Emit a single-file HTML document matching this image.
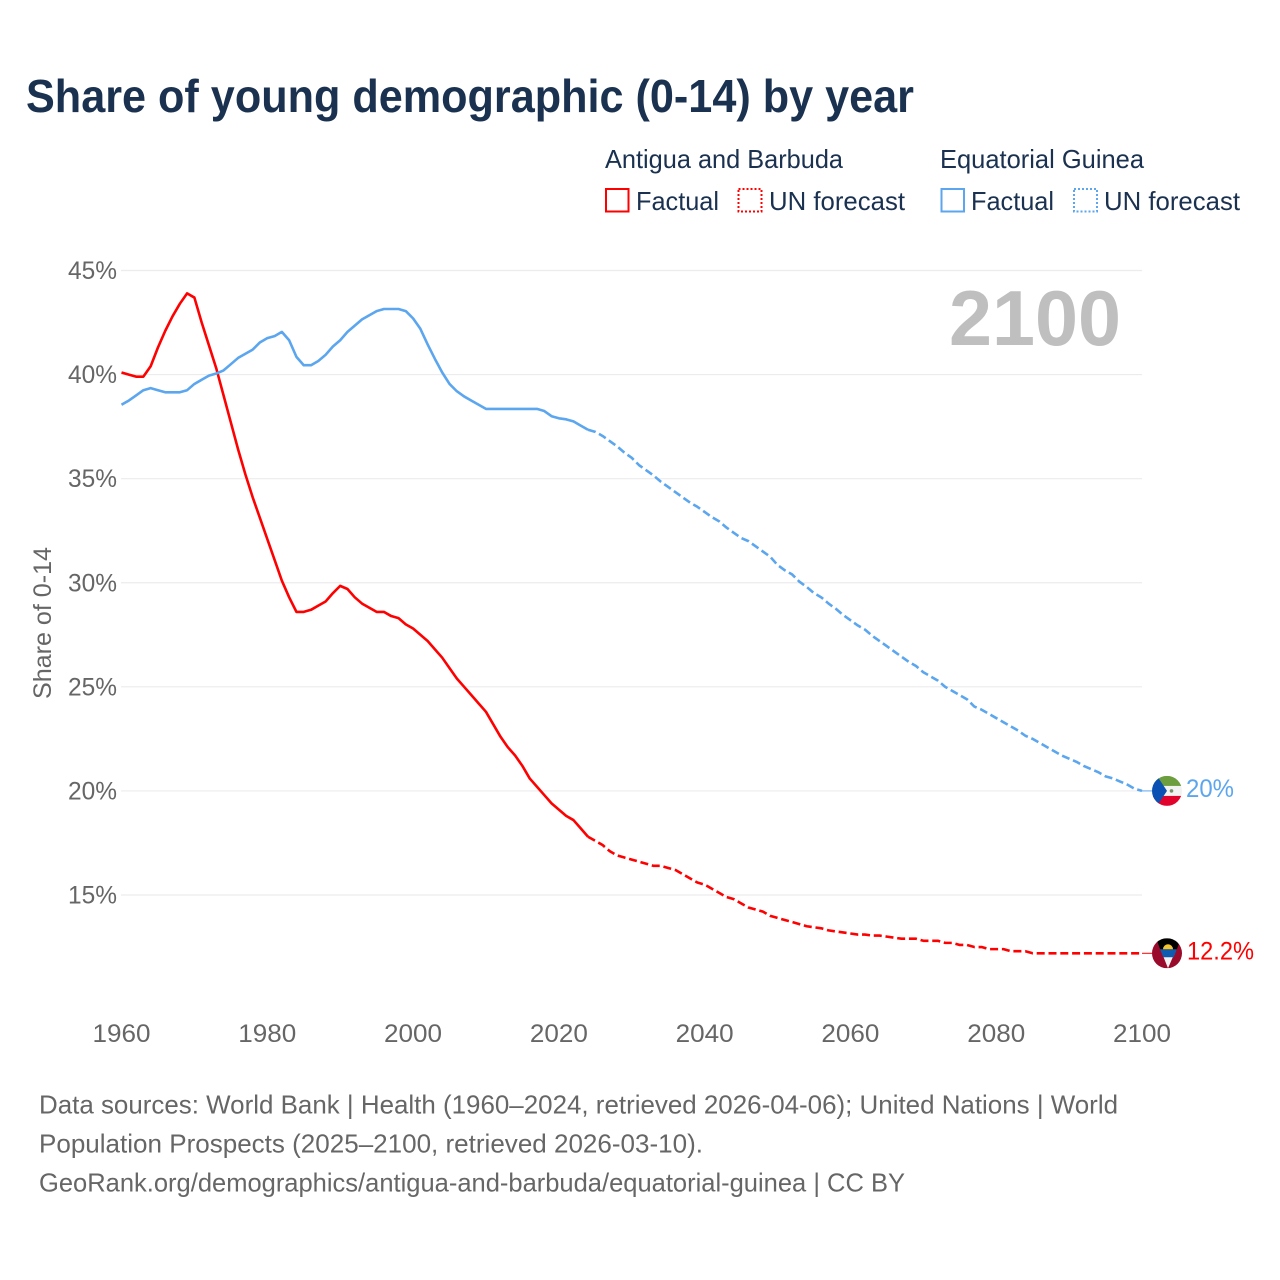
<!DOCTYPE html>
<html lang="en">
<head>
<meta charset="utf-8">
<title>Share of young demographic (0-14) by year</title>
<style>
html,body{margin:0;padding:0;background:#fff;width:1280px;height:1280px;overflow:hidden}
svg{display:block;font-family:"Liberation Sans",Arial,sans-serif}
</style>
</head>
<body>
<svg id="chart" xmlns="http://www.w3.org/2000/svg" width="1280" height="1280" viewBox="0 0 1280 1280">
  <defs>
    <clipPath id="flag-clip"><circle cx="0" cy="0" r="15"/></clipPath>
  </defs>
  <rect x="0" y="0" width="1280" height="1280" fill="#fff"/>
  <text x="26" y="112" font-size="46" font-weight="700" fill="#1a3150" textLength="888" lengthAdjust="spacingAndGlyphs">Share of young demographic (0-14) by year</text>

  <g font-size="26" fill="#1a3150">
    <text x="605" y="168" textLength="238" lengthAdjust="spacingAndGlyphs">Antigua and Barbuda</text>
    <rect x="606" y="189" width="22.5" height="22.5" fill="none" stroke="#ff0000" stroke-width="2"/>
    <text x="636" y="210" textLength="83" lengthAdjust="spacingAndGlyphs">Factual</text>
    <rect x="738.5" y="189" width="23" height="22.5" fill="none" stroke="#ff0000" stroke-width="2" stroke-dasharray="2 2"/>
    <text x="769" y="210" textLength="136" lengthAdjust="spacingAndGlyphs">UN forecast</text>
    <text x="940" y="168" textLength="204" lengthAdjust="spacingAndGlyphs">Equatorial Guinea</text>
    <rect x="941.5" y="189" width="22.5" height="22.5" fill="none" stroke="#5ba6ee" stroke-width="2"/>
    <text x="971" y="210" textLength="83" lengthAdjust="spacingAndGlyphs">Factual</text>
    <rect x="1074" y="189" width="23" height="22.5" fill="none" stroke="#5ba6ee" stroke-width="2" stroke-dasharray="2 2"/>
    <text x="1104" y="210" textLength="136" lengthAdjust="spacingAndGlyphs">UN forecast</text>
  </g>

  <g id="grid"></g>
  <g id="y-ticks"></g>
  <g id="x-ticks"></g>
  <text transform="translate(51,623) rotate(-90)" text-anchor="middle" font-size="25" fill="#666" textLength="152" lengthAdjust="spacingAndGlyphs">Share of 0-14</text>
  <text x="949" y="345" font-size="78" font-weight="700" fill="#bfbfbf" textLength="172" lengthAdjust="spacingAndGlyphs">2100</text>
  <g id="series"></g>

  <g id="flag-guinea" clip-path="url(#flag-clip)">
    <rect x="-15" y="-15" width="30" height="30" fill="#f2f2f2"/>
    <rect x="-15" y="-15" width="30" height="10" fill="#6c9e3f"/>
    <rect x="-15" y="5" width="30" height="10" fill="#e2032d"/>
    <polygon points="-15,-15 -10,-15 0,0 -10,15 -15,15" fill="#0a51b3"/>
    <circle cx="4.5" cy="0" r="1.8" fill="#77906a"/>
  </g>
  <g id="flag-antigua" clip-path="url(#flag-clip)">
    <rect x="-15" y="-15" width="30" height="30" fill="#9a0a2a"/>
    <polygon points="-11,-15 14,-15 1,15" fill="#f2f2f2"/>
    <polygon points="-11,-15 14,-15 9.5,-3 -6.5,-3" fill="#000"/>
    <polygon points="-7,-4 9.8,-4 6.8,4 -3.6,4" fill="#0f5bb0"/>
    <path d="M-4,-4 A5,5 0 0 1 6,-4 Z" fill="#f4c430"/>
  </g>
  <text id="label-guinea" x="1186" font-size="25" fill="#5ba6ee" textLength="48" lengthAdjust="spacingAndGlyphs"></text>
  <text id="label-antigua" x="1187" font-size="25" fill="#ff0000" textLength="67" lengthAdjust="spacingAndGlyphs"></text>

  <g font-size="26" fill="#666">
    <text x="39" y="1113.5" textLength="1079" lengthAdjust="spacingAndGlyphs">Data sources: World Bank | Health (1960–2024, retrieved 2026-04-06); United Nations | World</text>
    <text x="39" y="1152.5" textLength="664" lengthAdjust="spacingAndGlyphs">Population Prospects (2025–2100, retrieved 2026-03-10).</text>
    <text x="39" y="1191.5" textLength="866" lengthAdjust="spacingAndGlyphs">GeoRank.org/demographics/antigua-and-barbuda/equatorial-guinea | CC BY</text>
  </g>
</svg>

<script>
const xTickYears = [1960, 1980, 2000, 2020, 2040, 2060, 2080, 2100];
const yTickValues = [15, 20, 25, 30, 35, 40, 45];
const factualStartYear = 1960;
const forecastStartYear = 2024;

const antiguaFactual = [
  40.1,40.0,39.9,39.9,40.4,41.3,42.1,42.8,43.4,43.9,
  43.7,42.5,41.4,40.3,39.0,37.7,36.4,35.2,34.1,33.1,
  32.1,31.1,30.1,29.3,28.6,28.6,28.7,28.9,29.1,29.5,
  29.85,29.7,29.3,29.0,28.8,28.6,28.6,28.4,28.3,28.0,
  27.8,27.5,27.2,26.8,26.4,25.9,25.4,25.0,24.6,24.2,
  23.8,23.2,22.6,22.1,21.7,21.2,20.6,20.2,19.8,19.4,
  19.1,18.8,18.6,18.2,17.8
];
const antiguaForecast = [
  17.8,17.6,17.4,17.1,16.9,16.8,
  16.7,16.6,16.5,16.4,16.4,16.3,16.2,16.0,15.8,15.6,
  15.5,15.3,15.1,14.9,14.8,14.6,14.4,14.3,14.2,14.0,
  13.9,13.8,13.7,13.6,13.5,13.45,13.4,13.3,13.25,13.2,
  13.15,13.1,13.1,13.05,13.05,13.0,12.95,12.9,12.9,12.9,
  12.8,12.8,12.8,12.7,12.7,12.6,12.6,12.5,12.5,12.4,
  12.4,12.4,12.3,12.3,12.3,12.2,12.2,12.2,12.2,12.2,
  12.2,12.2,12.2,12.2,12.2,12.2,12.2,12.2,12.2,12.2,
  12.2
];
const guineaFactual = [
  38.55,38.75,39.0,39.25,39.35,39.25,39.15,39.15,39.15,39.25,
  39.55,39.75,39.95,40.05,40.2,40.5,40.8,41.0,41.2,41.55,
  41.75,41.85,42.05,41.65,40.85,40.45,40.45,40.65,40.95,41.35,
  41.65,42.05,42.35,42.65,42.85,43.05,43.15,43.15,43.15,43.05,
  42.7,42.2,41.45,40.75,40.1,39.55,39.2,38.95,38.75,38.55,
  38.35,38.35,38.35,38.35,38.35,38.35,38.35,38.35,38.25,38.0,
  37.9,37.85,37.75,37.55,37.35
];
const guineaForecast = [
  37.35,37.25,37.05,36.8,36.55,36.25,
  36.0,35.65,35.4,35.15,34.85,34.6,34.35,34.1,33.85,33.65,
  33.4,33.15,32.95,32.65,32.4,32.15,32.0,31.75,31.5,31.25,
  30.85,30.6,30.4,30.05,29.8,29.5,29.3,29.0,28.75,28.45,
  28.2,27.95,27.75,27.45,27.2,26.95,26.7,26.45,26.2,26.0,
  25.7,25.5,25.3,25.0,24.8,24.6,24.4,24.05,23.9,23.7,
  23.5,23.3,23.1,22.9,22.65,22.5,22.3,22.1,21.9,21.7,
  21.55,21.4,21.2,21.05,20.9,20.7,20.6,20.45,20.3,20.1,
  20.0
];

const xAxis = year => 121.5 + (year - 1960) * (1142 - 121.5) / 140;
const yAxis = value => 270.5 + (45 - value) * (895 - 270.5) / 30;
const svgNS = 'http://www.w3.org/2000/svg';

function make(tag, attrs, parent) {
  const node = document.createElementNS(svgNS, tag);
  Object.keys(attrs).forEach(k => node.setAttribute(k, attrs[k]));
  parent.appendChild(node);
  return node;
}
function pathFor(values, startYear) {
  return values.map((v, i) => (i ? 'L' : 'M') + xAxis(startYear + i).toFixed(2) + ' ' + yAxis(v).toFixed(2)).join(' ');
}

const gridGroup = document.getElementById('grid');
const yTickGroup = document.getElementById('y-ticks');
yTickValues.forEach(v => {
  const line = make('line', {x1: 121, x2: 1142, y1: yAxis(v), y2: yAxis(v), stroke: '#ececec', 'stroke-width': 1.2}, gridGroup);
  
  
  const label = make('text', {x: 117, y: yAxis(v) + 8.5, 'text-anchor': 'end', 'font-size': 25, fill: '#666', textLength: 49, lengthAdjust: 'spacingAndGlyphs'}, yTickGroup);
  
  
  label.textContent = v + '%';
});

const xTickGroup = document.getElementById('x-ticks');
xTickYears.forEach(y => {
  const label = make('text', {x: xAxis(y), y: 1042, 'text-anchor': 'middle', 'font-size': 25, fill: '#666', textLength: 58, lengthAdjust: 'spacingAndGlyphs'}, xTickGroup);
  
  
  label.textContent = y;
});

const seriesGroup = document.getElementById('series');
const common = {fill: 'none', 'stroke-width': 2.6, 'stroke-linejoin': 'round'};

const antiguaFactualLine = make('path', Object.assign({d: pathFor(antiguaFactual, factualStartYear), stroke: '#ff0000'}, common), seriesGroup);



const antiguaForecastLine = make('path', Object.assign({d: pathFor(antiguaForecast, forecastStartYear), stroke: '#ff0000', 'stroke-dasharray': '8 3.8'}, common), seriesGroup);



const guineaFactualLine = make('path', Object.assign({d: pathFor(guineaFactual, factualStartYear), stroke: '#5ba6ee'}, common), seriesGroup);



const guineaForecastLine = make('path', Object.assign({d: pathFor(guineaForecast, forecastStartYear), stroke: '#5ba6ee', 'stroke-dasharray': '8 3.8'}, common), seriesGroup);



const antiguaEnd = antiguaForecast[antiguaForecast.length - 1];
const guineaEnd = guineaForecast[guineaForecast.length - 1];

const antiguaConnector = make('line', {x1: xAxis(2100), x2: 1152, y1: yAxis(antiguaEnd), y2: yAxis(antiguaEnd), stroke: '#ff0000', 'stroke-width': 1}, seriesGroup);



const guineaConnector = make('line', {x1: xAxis(2100), x2: 1152, y1: yAxis(guineaEnd), y2: yAxis(guineaEnd), stroke: '#5ba6ee', 'stroke-width': 1}, seriesGroup);



document.getElementById('flag-guinea').setAttribute('transform', 'translate(1167,' + yAxis(guineaEnd) + ')');
document.getElementById('flag-antigua').setAttribute('transform', 'translate(1167,' + yAxis(antiguaEnd) + ')');

const guineaLabel = document.getElementById('label-guinea');
guineaLabel.setAttribute('y', yAxis(guineaEnd) + 6);
guineaLabel.textContent = guineaEnd + '%';
const antiguaLabel = document.getElementById('label-antigua');
antiguaLabel.setAttribute('y', yAxis(antiguaEnd) + 6);
antiguaLabel.textContent = antiguaEnd + '%';
</script>
</body>
</html>
